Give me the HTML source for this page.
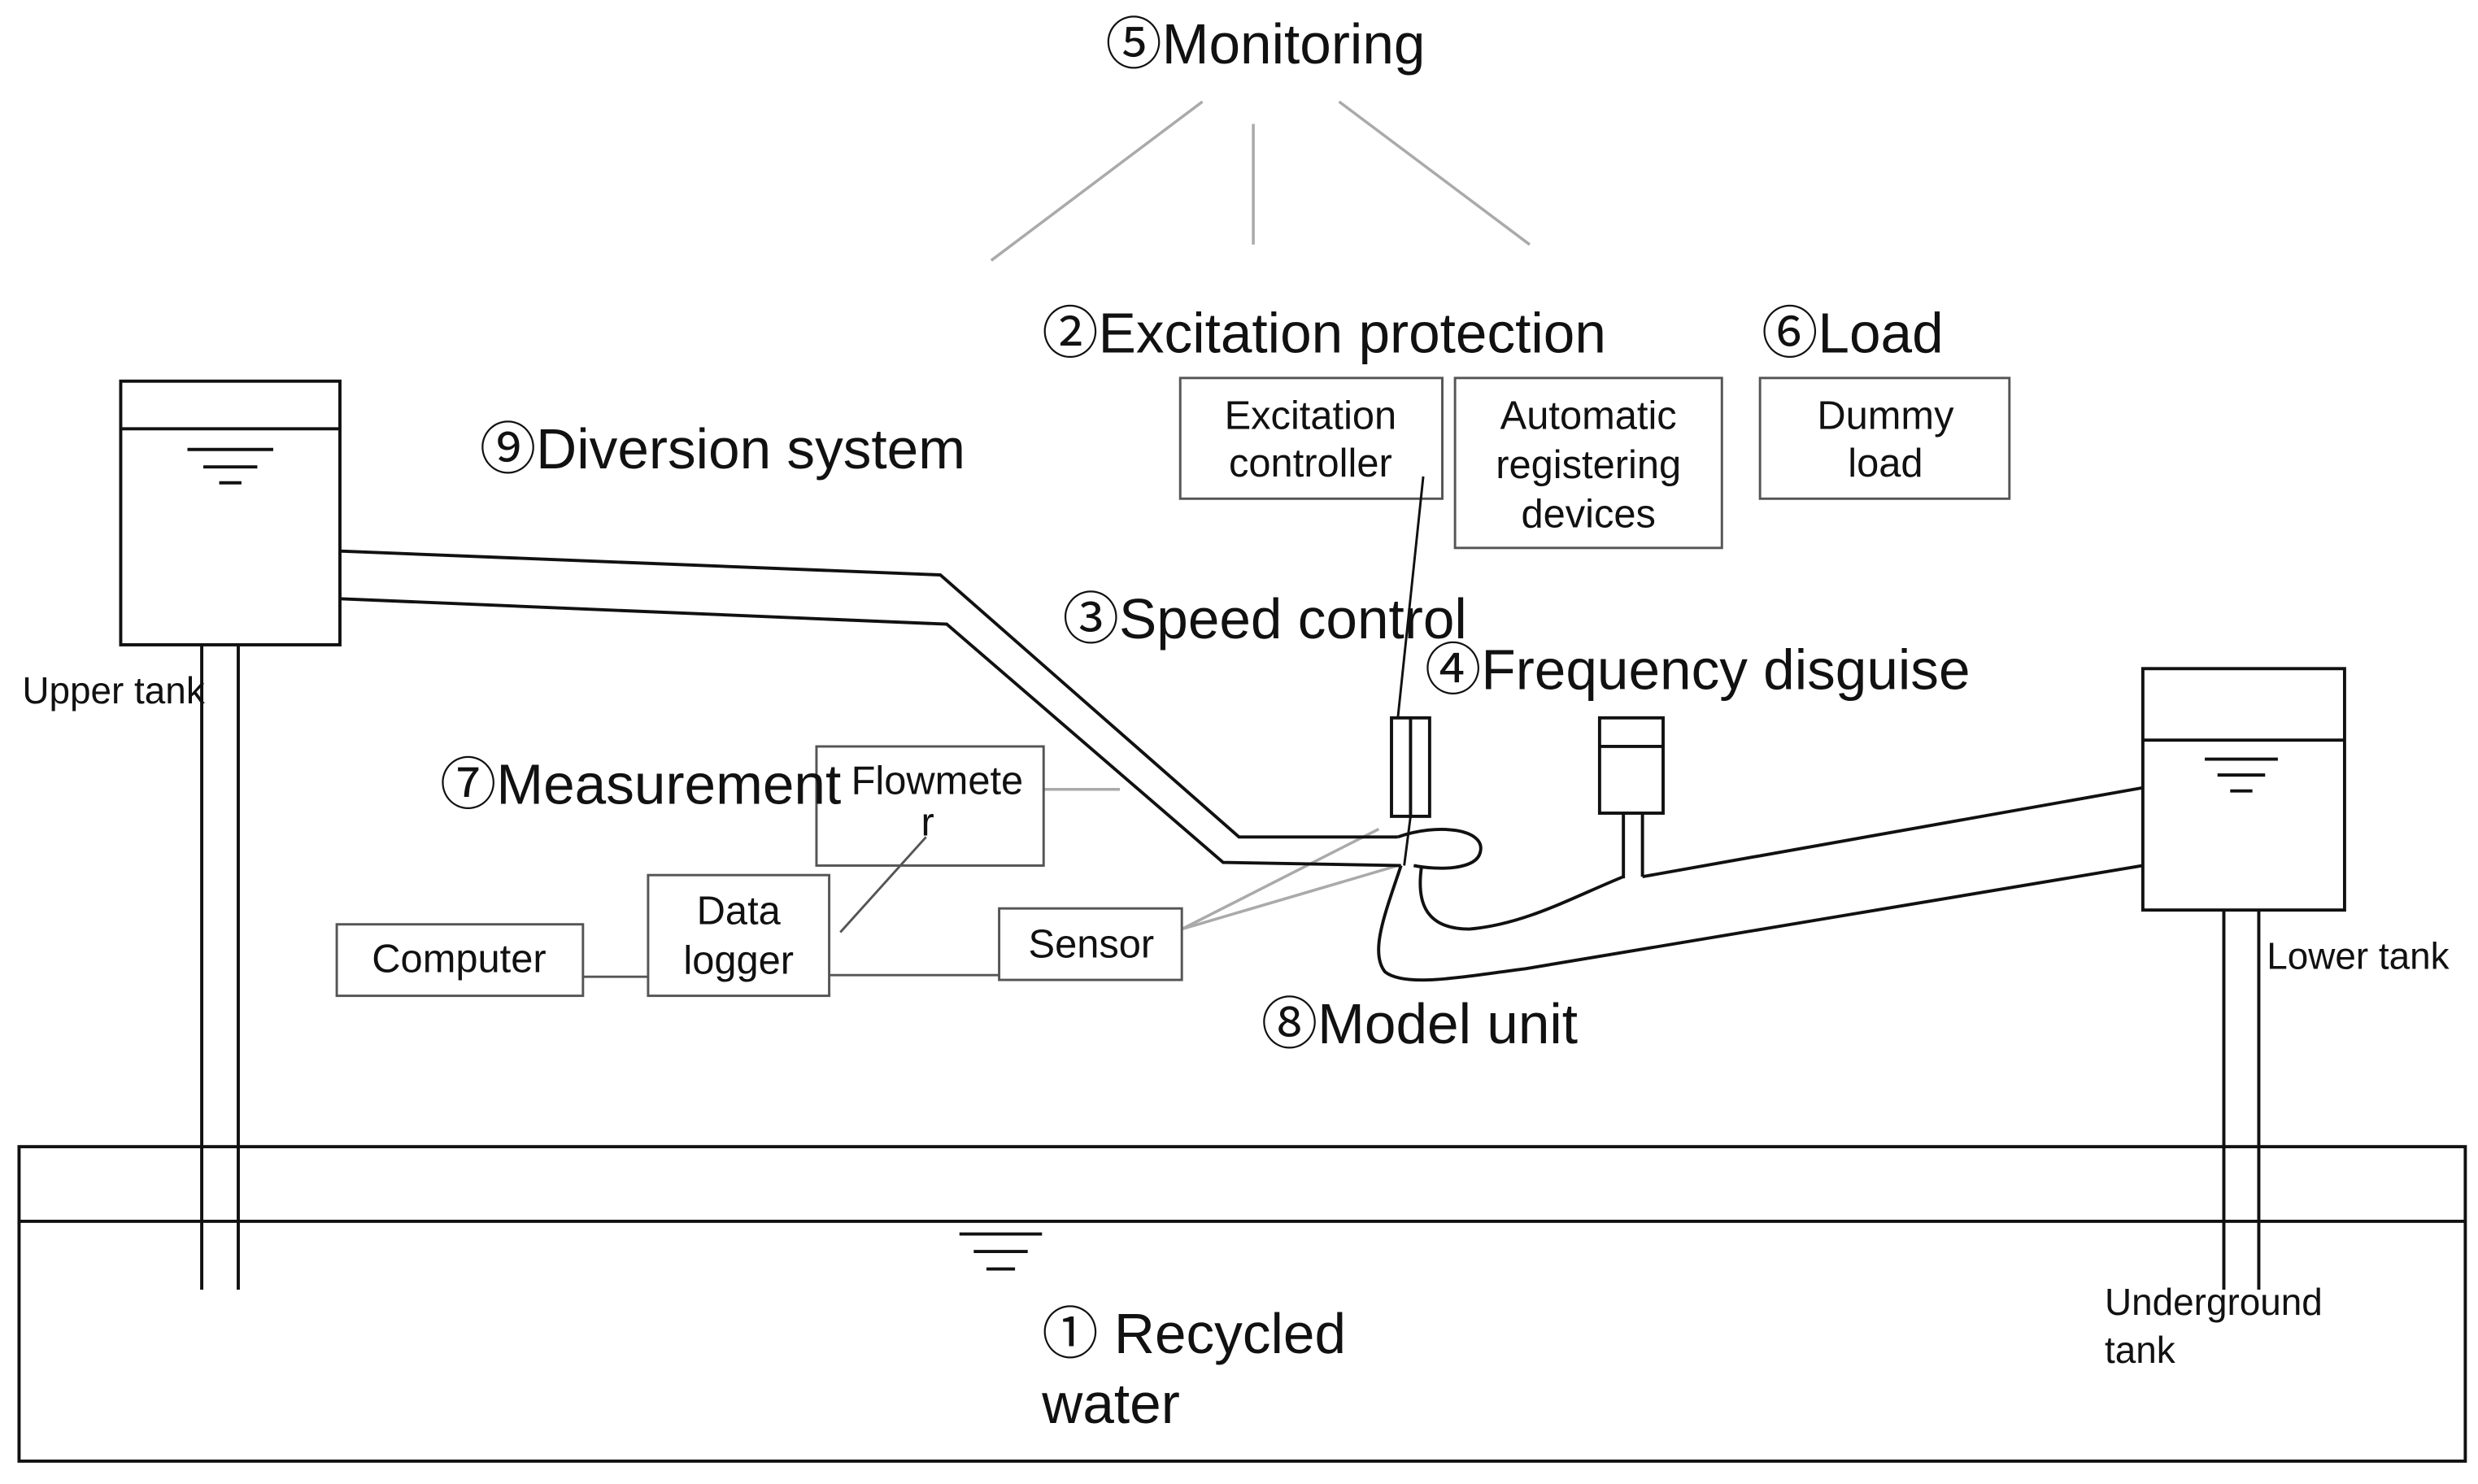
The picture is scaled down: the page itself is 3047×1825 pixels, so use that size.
<!DOCTYPE html>
<html><head><meta charset="utf-8"><style>
html,body{margin:0;padding:0;background:#fff;}
svg{display:block;}
text{font-family:"Liberation Sans","Noto Sans CJK JP",sans-serif;fill:#111;}
.b{font-size:35.5px;}
.s{font-size:25px;fill:#333;}
</style></head><body>
<svg width="3047" height="1825" viewBox="0 0 1560 934.4" preserveAspectRatio="none" xmlns="http://www.w3.org/2000/svg">
<g fill="none" stroke="#111" stroke-width="2">
<g stroke="#aaa" stroke-width="1.8">
<line x1="757" y1="64" x2="624" y2="164"/>
<line x1="789" y1="78" x2="789" y2="154"/>
<line x1="843" y1="64" x2="963" y2="154"/>
<line x1="657" y1="497" x2="705" y2="497"/>
<line x1="744" y1="585" x2="868" y2="522"/>
<line x1="744" y1="585" x2="880" y2="545"/>
</g>
<g stroke="#555" stroke-width="1.5">
<rect x="743" y="238" width="165" height="76"/>
<rect x="916" y="238" width="168" height="107"/>
<rect x="1108" y="238" width="157" height="76"/>
<rect x="514" y="470" width="143" height="75"/>
<rect x="408" y="551" width="114" height="76"/>
<rect x="212" y="582" width="155" height="45"/>
<rect x="629" y="572" width="115" height="45"/>
<line x1="367" y1="615" x2="408" y2="615"/>
<line x1="522" y1="614" x2="629" y2="614"/>
<line x1="529" y1="587" x2="583" y2="527"/>
</g>
<rect x="76" y="240" width="138" height="166"/>
<line x1="76" y1="270" x2="214" y2="270"/>
<line x1="118" y1="283" x2="172" y2="283"/>
<line x1="128" y1="294" x2="162" y2="294"/>
<line x1="138" y1="304" x2="152" y2="304"/>
<line x1="127" y1="406" x2="127" y2="812"/>
<line x1="150" y1="406" x2="150" y2="812"/>
<polyline points="214,347 592,362 780,527 880,527"/>
<polyline points="214,377 596,393 770,543 882,545"/>
<path d="M880,527 C905,518 935,522 932,536 C930,548 905,548 890,545"/>
<path d="M895,545 C892,565 895,585 925,585 C960,582 990,565 1022,552"/>
<path d="M882,545 C872,575 862,600 872,612 C885,622 920,615 960,610 L1349,545"/>
<line x1="1034" y1="552" x2="1349" y2="496"/>
<line x1="1022" y1="512" x2="1022" y2="553"/>
<line x1="1034" y1="512" x2="1034" y2="552"/>
<rect x="876" y="452" width="24" height="62"/>
<line x1="888" y1="452" x2="888" y2="514"/>
<line x1="896" y1="300" x2="880" y2="452" stroke-width="1.5"/>
<line x1="888" y1="514" x2="884" y2="545" stroke-width="1.5"/>
<rect x="1007" y="452" width="40" height="60"/>
<line x1="1007" y1="470" x2="1047" y2="470"/>
<rect x="1349" y="421" width="127" height="152"/>
<line x1="1349" y1="466" x2="1476" y2="466"/>
<line x1="1388" y1="478" x2="1434" y2="478"/>
<line x1="1396" y1="488" x2="1426" y2="488"/>
<line x1="1404" y1="498" x2="1418" y2="498"/>
<line x1="1400" y1="573" x2="1400" y2="812"/>
<line x1="1422" y1="573" x2="1422" y2="812"/>
<rect x="12" y="722" width="1540" height="198"/>
<line x1="12" y1="769" x2="1552" y2="769"/>
<line x1="604" y1="777" x2="656" y2="777"/>
<line x1="613" y1="788" x2="647" y2="788"/>
<line x1="621" y1="799" x2="639" y2="799"/>
</g>
<text class="b" x="696" y="40">⑤Monitoring</text>
<text class="b" x="656" y="222">②Excitation protection</text>
<text class="b" x="1109" y="222">⑥Load</text>
<text class="b" x="302" y="295">⑨Diversion system</text>
<text class="b" x="669" y="402">③Speed control</text>
<text class="b" x="897" y="434">④Frequency disguise</text>
<text class="b" x="277" y="506">⑦Measurement</text>
<text class="b" x="794" y="657">⑧Model unit</text>
<text class="b" x="656" y="852">① Recycled</text>
<text class="b" x="656" y="896">water</text>
<g class="s" text-anchor="middle">
<text x="825" y="270">Excitation</text>
<text x="825" y="300">controller</text>
<text x="1000" y="270">Automatic</text>
<text x="1000" y="301">registering</text>
<text x="1000" y="332">devices</text>
<text x="1187" y="270">Dummy</text>
<text x="1187" y="300">load</text>
<text x="465" y="582">Data</text>
<text x="465" y="613">logger</text>
<text x="289" y="612">Computer</text>
<text x="687" y="603">Sensor</text>
<text x="590" y="500">Flowmete</text>
<text x="584" y="526">r</text>
</g>
<g class="s" style="font-size:23.5px">
<text x="14" y="443">Upper tank</text>
<text x="1427" y="610">Lower tank</text>
<text x="1325" y="828">Underground</text>
<text x="1325" y="858">tank</text>
</g>
</svg>
</body></html>
